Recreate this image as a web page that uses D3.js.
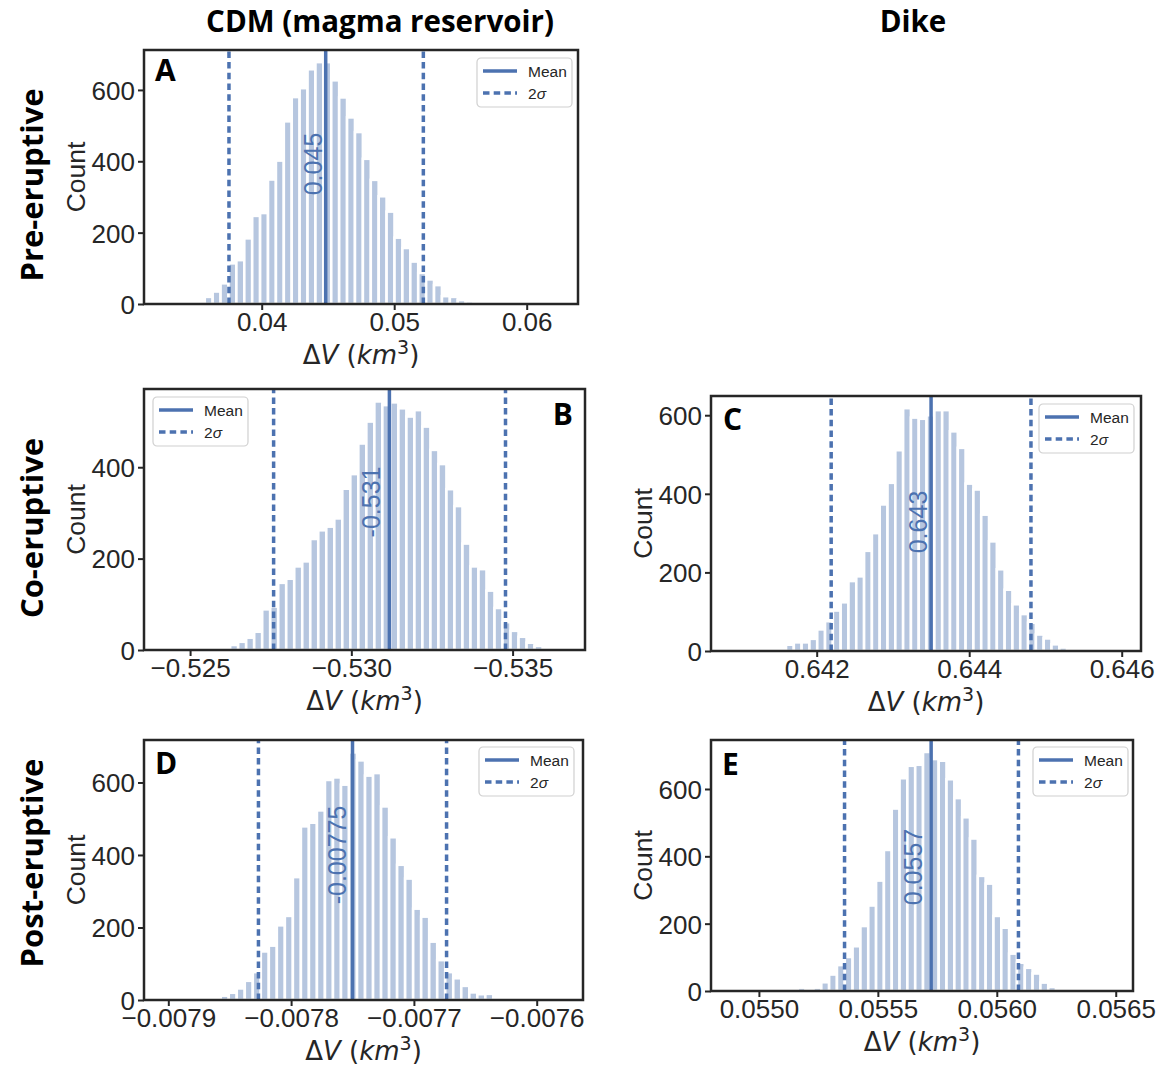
<!DOCTYPE html>
<html>
<head>
<meta charset="utf-8">
<script src="https://cdn.jsdelivr.net/npm/d3@7"></script>
<style>
  body { margin: 0; background: #fff; }
  text { font-family: "Liberation Sans", Arial, Helvetica, sans-serif; fill: #262626; }
  .bold { font-family: "Open Sans", "Noto Sans", sans-serif; font-weight: 700; fill: #000; }
  .math { font-family: "DejaVu Sans", sans-serif; }
</style>
</head>
<body>
<svg id="fig" width="1162" height="1068"></svg>
<script>
// histogram counts, left to right on screen
var countsA = [7, 20, 35, 58, 114, 123, 184, 247, 255, 349, 402, 512, 580, 605, 658, 678, 678, 627,
  579, 523, 482, 407, 348, 302, 259, 186, 157, 119, 87, 69, 53, 22, 20, 11, 8, 6];
var countsB = [4, 11, 18, 27, 40, 89, 95, 147, 156, 183, 194, 243, 262, 270, 288, 353, 385, 452, 500, 544,
  536, 542, 529, 511, 525, 489, 438, 407, 352, 315, 233, 183, 177, 130, 92, 61, 42, 29, 16, 9];
var countsC = [3, 6, 16, 22, 22, 31, 55, 76, 103, 124, 178, 190, 255, 300, 373, 428, 511, 618, 594, 591,
  600, 613, 613, 559, 517, 426, 411, 347, 279, 208, 156, 119, 94, 72, 42, 32, 17, 9, 3, 4, 1];
var countsD = [5, 12, 20, 32, 53, 77, 134, 150, 206, 232, 339, 479, 489, 523, 607, 614, 594, 683, 661,
  619, 626, 534, 449, 373, 335, 252, 230, 161, 110, 77, 60, 39, 21, 16, 17, 5];
var countsE = [10, 7, 10, 26, 49, 77, 101, 133, 193, 254, 328, 419, 542, 632, 669, 672, 710, 689, 684,
  629, 573, 516, 453, 342, 319, 223, 188, 111, 84, 69, 52, 25, 12, 7, 3];

// centre of the first (leftmost) bin and the bin step, in km3
var binsA = [0.035404, 0.0005967];
var binsB = [-0.526118, -0.0002484];
var binsC = [0.641444, 0.0001024];
var binsD = [-0.0078606, 0.00000653];
var binsE = [0.055180, 0.0000329];

// mean, then the two 2-sigma bounds
var statsA = [0.04483, 0.03753, 0.0522];
var statsB = [-0.53118, -0.52759, -0.53478];
var statsC = [0.64350, 0.64219, 0.64481];
var statsD = [-0.00775, -0.0078266, -0.0076734];
var statsE = [0.055724, 0.05536, 0.056091];
var meanLabels = ["0.045", "-0.531", "0.643", "-0.00775", "0.0557"];

// x limits (B is drawn reversed)
var xlimA = [0.031117, 0.063872];
var xlimB = [-0.523571, -0.537245];
var xlimC = [0.640614, 0.646253];
var xlimD = [-0.0079198, -0.0075623];
var xlimE = [0.0547986, 0.0565726];

var xTicksA = [0.04, 0.05, 0.06], xLabelsA = ["0.04", "0.05", "0.06"];
var xTicksB = [-0.525, -0.530, -0.535], xLabelsB = ["\u22120.525", "\u22120.530", "\u22120.535"];
var xTicksC = [0.642, 0.644, 0.646], xLabelsC = ["0.642", "0.644", "0.646"];
var xTicksD = [-0.0079, -0.0078, -0.0077, -0.0076],
    xLabelsD = ["\u22120.0079", "\u22120.0078", "\u22120.0077", "\u22120.0076"];
var xTicksE = [0.0550, 0.0555, 0.0560, 0.0565], xLabelsE = ["0.0550", "0.0555", "0.0560", "0.0565"];
var yTicks = [0, 200, 400, 600];

var rowTitles = ["Pre-eruptive", "Co-eruptive", "Post-eruptive"];
var colTitles = ["CDM (magma reservoir)", "Dike"];
var legendLabels = ["Mean", "2\u03c3"];

var blue = "#4c72b0", barFill = "#b6c6df", ink = "#262626";

var svg = d3.select("#fig");

// layout of the five axes
var panels = [
  {id: "A", counts: countsA, bins: binsA, stats: statsA, xlim: xlimA, xt: xTicksA, xl: xLabelsA,
   box: [144, 578, 50, 304], letter: [155, 81, "start"], legend: [477, 58], labelY: 164, gap: 4},
  {id: "B", counts: countsB, bins: binsB, stats: statsB, xlim: xlimB, xt: xTicksB, xl: xLabelsB,
   box: [144, 585, 389, 650], letter: [573, 425, "end"], legend: [153, 397], labelY: 502, gap: 9},
  {id: "C", counts: countsC, bins: binsC, stats: statsC, xlim: xlimC, xt: xTicksC, xl: xLabelsC,
   box: [711, 1141, 396, 651], letter: [723, 430, "start"], legend: [1039, 404], labelY: 522, gap: 4},
  {id: "D", counts: countsD, bins: binsD, stats: statsD, xlim: xlimD, xt: xTicksD, xl: xLabelsD,
   box: [144, 583, 740, 1000], letter: [155, 774, "start"], legend: [479, 747], labelY: 855, gap: 7},
  {id: "E", counts: countsE, bins: binsE, stats: statsE, xlim: xlimE, xt: xTicksE, xl: xLabelsE,
   box: [711, 1133, 740, 991], letter: [722, 775, "start"], legend: [1033, 747], labelY: 867, gap: 9}
];

panels.forEach(function (p, k) {
  var L = p.box[0], R = p.box[1], T = p.box[2], B = p.box[3];
  var x = d3.scaleLinear().domain(p.xlim).range([L, R]);
  var y = d3.scaleLinear().domain([0, d3.max(p.counts) * 1.05]).range([B, T]);
  var g = svg.append("g");

  var bins = p.counts.map(function (n, i) {
    var c = p.bins[0] + i * p.bins[1];
    return {x0: c - p.bins[1] / 2, x1: c + p.bins[1] / 2, n: n};
  });

  g.selectAll("rect.bar").data(bins).enter().append("rect")
    .attr("x", function (d) { return Math.min(x(d.x0), x(d.x1)); })
    .attr("width", function (d) { return Math.abs(x(d.x1) - x(d.x0)); })
    .attr("y", function (d) { return y(d.n); })
    .attr("height", function (d) { return y(0) - y(d.n); })
    .attr("fill", barFill)
    .attr("stroke", "#fff")
    .attr("stroke-width", 2.6);

  // 2 sigma and mean lines
  g.selectAll("line.sig").data(p.stats.slice(1)).enter().append("line")
    .attr("x1", function (d) { return x(d); }).attr("x2", function (d) { return x(d); })
    .attr("y1", B).attr("y2", T)
    .attr("stroke", blue).attr("stroke-width", 3.5).attr("stroke-dasharray", "6.5,4.2");
  g.append("line")
    .attr("x1", x(p.stats[0])).attr("x2", x(p.stats[0]))
    .attr("y1", B).attr("y2", T)
    .attr("stroke", blue).attr("stroke-width", 3.5);

  g.append("text")
    .attr("transform", "translate(" + (x(p.stats[0]) - p.gap) + "," + p.labelY + ") rotate(-90)")
    .attr("text-anchor", "middle")
    .style("font-size", "25px").style("fill", blue)
    .text(meanLabels[k]);

  // axes
  var ax = g.append("g").attr("transform", "translate(" + L + ",0)")
    .call(d3.axisLeft(y).tickValues(yTicks.filter(function (v) { return v <= y.domain()[1]; }))
      .tickSize(6).tickPadding(3).tickFormat(d3.format("d")));
  var bx = g.append("g").attr("transform", "translate(0," + B + ")")
    .call(d3.axisBottom(x).tickValues(p.xt).tickSize(6).tickPadding(3)
      .tickFormat(function (d, i) { return p.xl[i]; }));
  [ax, bx].forEach(function (a) {
    a.select(".domain").remove();
    a.selectAll(".tick line").attr("stroke", ink).attr("stroke-width", 2);
    a.selectAll(".tick text").style("font-size", "26px").style("fill", ink)
      .style("font-family", "'Liberation Sans', Arial, sans-serif");
  });
  ax.selectAll(".tick text").attr("dy", "0.36em");

  g.append("rect")
    .attr("x", L).attr("y", T).attr("width", R - L).attr("height", B - T)
    .attr("fill", "none").attr("stroke", ink).attr("stroke-width", 2.5);

  g.append("text")
    .attr("transform", "translate(" + (L - 59) + "," + ((T + B) / 2) + ") rotate(-90)")
    .attr("text-anchor", "middle").style("font-size", "26.5px")
    .text("Count");

  var xl = g.append("text").attr("class", "math")
    .attr("x", (L + R) / 2).attr("y", B + 60)
    .attr("text-anchor", "middle").style("font-size", "26px");
  xl.append("tspan").text("\u0394");
  xl.append("tspan").style("font-style", "italic").text("V");
  xl.append("tspan").text(" (");
  xl.append("tspan").style("font-style", "italic").text("km");
  xl.append("tspan").attr("dy", -10).style("font-size", "19px").text("3");
  xl.append("tspan").attr("dy", 10).text(")");

  // legend
  var lg = g.append("g").attr("transform", "translate(" + p.legend[0] + "," + p.legend[1] + ")");
  lg.append("rect").attr("width", 95).attr("height", 49).attr("rx", 4)
    .attr("fill", "#fff").attr("fill-opacity", 0.85).attr("stroke", "#d0d0d0").attr("stroke-width", 1.2);
  legendLabels.forEach(function (lab, i) {
    var yy = 13 + i * 22;
    lg.append("line").attr("x1", 6).attr("x2", 40).attr("y1", yy).attr("y2", yy)
      .attr("stroke", blue).attr("stroke-width", 3.5)
      .attr("stroke-dasharray", i ? "6.5,4.2" : null);
    var t = lg.append("text").attr("x", 51).attr("y", yy + 5.5).style("font-size", "15.5px");
    if (i) { t.append("tspan").text("2"); t.append("tspan").style("font-style", "italic").text("\u03c3"); }
    else t.text(lab);
  });

  g.append("text").attr("class", "bold")
    .attr("x", p.letter[0]).attr("y", p.letter[1])
    .attr("text-anchor", p.letter[2]).style("font-size", "30px")
    .text(p.id);
});

// column and row titles
svg.selectAll("text.col").data(colTitles).enter().append("text")
  .attr("class", "bold")
  .attr("x", function (d, i) { return [380, 913][i]; }).attr("y", 32)
  .attr("text-anchor", "middle").style("font-size", "29.5px")
  .text(function (d) { return d; });

svg.selectAll("text.row").data(rowTitles).enter().append("text")
  .attr("class", "bold")
  .attr("transform", function (d, i) { return "translate(43," + [185, 528, 863][i] + ") rotate(-90)"; })
  .attr("text-anchor", "middle").style("font-size", "31px")
  .text(function (d) { return d; });
</script>
</body>
</html>
